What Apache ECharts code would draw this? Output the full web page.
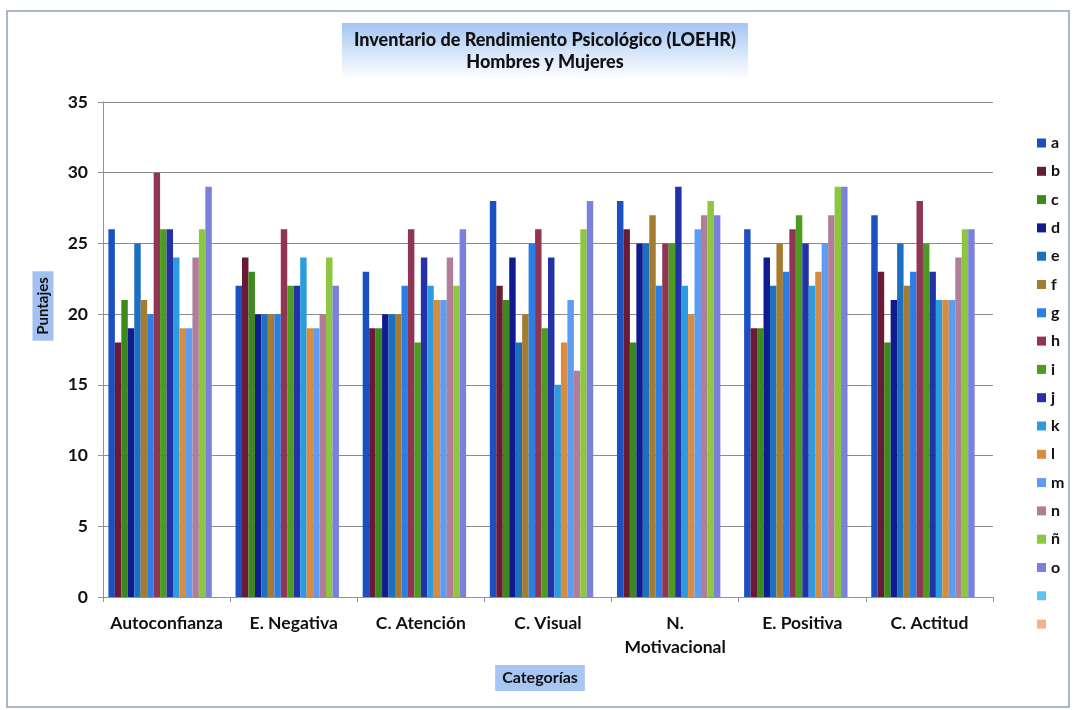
<!DOCTYPE html>
<html>
<head>
<meta charset="utf-8">
<script src="https://cdn.jsdelivr.net/npm/echarts@6/dist/echarts.min.js"></script>
<style>
  html, body { margin: 0; padding: 0; background: #ffffff; }
  #chart { width: 1073px; height: 710px; }
</style>
</head>
<body>
<div id="chart"></div>
<script>
// Categories on the x axis
const categories = ['Autoconfianza', 'E. Negativa', 'C. Atención', 'C. Visual', 'N. Motivacional', 'E. Positiva', 'C. Actitud'];

// Scores per subject, one value per category
const a    = [26, 22, 23, 28, 28, 26, 27];
const b    = [18, 24, 19, 22, 26, 19, 23];
const c    = [21, 23, 19, 21, 18, 19, 18];
const d    = [19, 20, 20, 24, 25, 24, 21];
const e    = [25, 20, 20, 18, 25, 22, 25];
const f    = [21, 20, 20, 20, 27, 25, 22];
const g    = [20, 20, 22, 25, 22, 23, 23];
const h    = [30, 26, 26, 26, 25, 26, 28];
const i    = [26, 22, 18, 19, 25, 27, 25];
const j    = [26, 22, 24, 24, 29, 25, 23];
const k    = [24, 24, 22, 15, 22, 22, 21];
const l    = [19, 19, 21, 18, 20, 23, 21];
const m    = [19, 19, 21, 21, 26, 25, 21];
const n    = [24, 20, 24, 16, 27, 27, 24];
const enye = [26, 24, 22, 26, 28, 29, 26];
const o    = [29, 22, 26, 28, 27, 29, 26];
// two empty series that still appear in the legend
const blank1 = [];
const blank2 = [];

const seriesNames = ['a', 'b', 'c', 'd', 'e', 'f', 'g', 'h', 'i', 'j', 'k', 'l', 'm', 'n', 'ñ', 'o', ' ', '  '];
const seriesValues = [a, b, c, d, e, f, g, h, i, j, k, l, m, n, enye, o, blank1, blank2];
const seriesColors = ['#1b4fc2', '#6b1a35', '#3b8a1d', '#0f1b8e', '#1c70c0', '#a57b2f', '#2b7ee6', '#8e3654',
                      '#4c9c1f', '#2332a8', '#2c9ce0', '#d98b3f', '#5c9cf2', '#b07e9b', '#8dc63f', '#7b80dc',
                      '#5ec3f2', '#f5b08e'];

// y axis
const yMin = 0, yMax = 35, yStep = 5;

const FONT = 'Lato';

const chart = echarts.init(document.getElementById('chart'), null, { renderer: 'canvas' });

chart.setOption({
  animation: false,
  backgroundColor: '#ffffff',
  textStyle: { fontFamily: FONT },
  title: {
    text: 'Inventario de Rendimiento Psicológico (LOEHR)\nHombres y Mujeres',
    left: 533,
    top: 23,
    textAlign: 'center',
    padding: [6, 12, 7, 12],
    backgroundColor: {
      type: 'linear', x: 0, y: 0, x2: 0, y2: 1,
      colorStops: [
        { offset: 0, color: '#a3c4f2' },
        { offset: 0.55, color: '#d9e7fa' },
        { offset: 1, color: '#ffffff' }
      ]
    },
    textStyle: {
      fontFamily: FONT, fontWeight: 900, fontSize: 18, lineHeight: 22, color: '#111111', align: 'center'
    }
  },
  legend: {
    orient: 'vertical',
    left: 1032,
    top: 129,
    itemWidth: 9,
    itemHeight: 9,
    itemGap: 10.3,
    itemTextGap: 6,
    icon: 'rect',
    data: seriesNames,
    textStyle: { fontFamily: FONT, fontSize: 16, fontWeight: 'bold', color: '#111111', lineHeight: 18 }
  },
  grid: { left: 103, right: 80, top: 102, bottom: 113, containLabel: false },
  xAxis: {
    type: 'category',
    data: categories,
    axisLine: { show: true, lineStyle: { color: '#8793a6', width: 1 } },
    axisTick: { show: true, alignWithLabel: false, length: 5, lineStyle: { color: '#8793a6' } },
    axisLabel: {
      interval: 0, margin: 14, color: '#111111', fontFamily: FONT, fontSize: 17.5, fontWeight: 'bold',
      lineHeight: 24,
      // long names wrap at their first space
      formatter: (v) => (v.length > 13 ? v.replace(' ', '\n') : v)
    },
    splitLine: { show: false }
  },
  yAxis: {
    type: 'value',
    min: yMin, max: yMax, interval: yStep,
    axisLine: { show: true, lineStyle: { color: '#8793a6', width: 1 } },
    axisTick: { show: true, length: 5, lineStyle: { color: '#8793a6' } },
    axisLabel: { margin: 15, color: '#111111', fontFamily: FONT, fontSize: 17.5, fontWeight: 'bold' },
    splitLine: { show: true, lineStyle: { color: '#8c8c8c', width: 1 } }
  },
  graphic: [
    {
      type: 'rect',
      silent: true,
      shape: { x: 7, y: 11, width: 1062, height: 696 },
      style: { fill: 'none', stroke: '#8fa0ba', lineWidth: 1.5 },
      z: -1
    },
    {
      type: 'text',
      x: 43, y: 306,
      rotation: Math.PI / 2,
      style: {
        text: 'Puntajes',
        align: 'center', verticalAlign: 'middle',
        font: 'bold 15px ' + FONT,
        fill: '#111111',
        backgroundColor: '#a3c1f0',
        padding: [3, 6, 3, 6]
      }
    },
    {
      type: 'text',
      x: 540, y: 678,
      style: {
        text: 'Categorías',
        align: 'center', verticalAlign: 'middle',
        font: 'bold 16px ' + FONT,
        fill: '#111111',
        backgroundColor: '#a8c6f2',
        padding: [5, 7, 5, 7]
      }
    }
  ],
  series: seriesNames.map((name, idx) => ({
    type: 'bar',
    name: name,
    data: seriesValues[idx],
    barGap: '0%',
    barCategoryGap: '8.5%',
    itemStyle: { color: seriesColors[idx] }
  }))
});
</script>
</body>
</html>
